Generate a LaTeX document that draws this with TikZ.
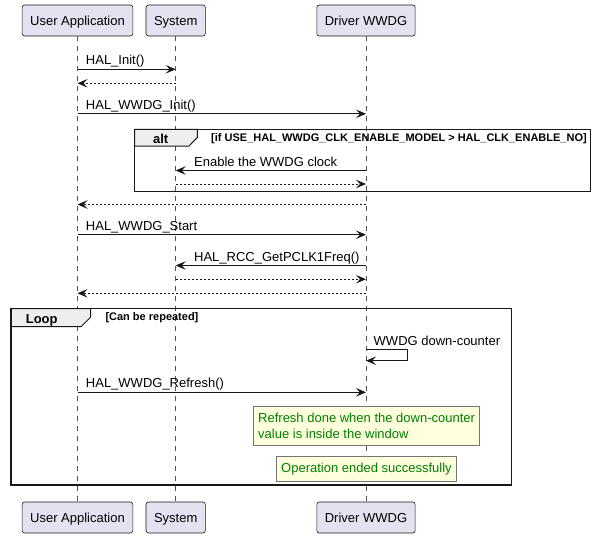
\documentclass[tikz,border=0pt]{standalone}
\usepackage{fontspec}
\setmainfont{Liberation Sans}
\usetikzlibrary{arrows.meta,positioning}

\definecolor{partfill}{RGB}{226,226,240}
\definecolor{notefill}{RGB}{254,255,221}
\definecolor{tabfill}{RGB}{238,238,238}
\definecolor{ink}{RGB}{24,24,24}
\definecolor{notetext}{RGB}{0,128,0}

\begin{document}
\begin{tikzpicture}[x=1pt, y=-1pt,
    part/.style={draw=ink, line width=0.6pt, fill=partfill, rounded corners=2.5pt,
                 minimum height=31pt, inner xsep=8pt, inner ysep=0pt,
                 text height=11.8pt, text depth=2.5pt, font=\fontsize{13}{15}\selectfont},
    life/.style={draw=ink!75, line width=0.5pt, dash pattern=on 5pt off 5pt},
    msg/.style={draw=ink, line width=0.9pt, -{Stealth[length=10pt, width=8.5pt, inset=4pt]}},
    ret/.style={msg, dash pattern=on 2pt off 2pt},
    lbl/.style={anchor=base west, inner sep=0pt, font=\fontsize{13}{15}\selectfont},
    frame/.style={draw=ink, line width=1.5pt},
    tab/.style={draw=ink, line width=1pt, fill=tabfill},
    grp/.style={anchor=base, inner sep=0pt, font=\fontsize{13}{15}\selectfont\bfseries},
    cond/.style={anchor=base west, inner sep=0pt, font=\fontsize{11}{13}\selectfont\bfseries},
    note/.style={draw=ink!60, line width=0.5pt, fill=notefill, text=notetext, align=left,
                 inner xsep=4.5pt, font=\fontsize{13}{16.5}\selectfont}]

\useasboundingbox (0,0) rectangle (596,538);

% === Participants (top and bottom) ===
\node[part] (ua)   at (77.5,20.5)   {User Application};
\node[part] (sys)  at (175.7,20.5)  {System};
\node[part] (drv)  at (366,20.5)    {Driver WWDG};
\node[part] (uaB)  at (77.5,517.5)  {User Application};
\node[part] (sysB) at (175.7,517.5) {System};
\node[part] (drvB) at (366,517.5)   {Driver WWDG};

% === Lifelines ===
\draw[life] (ua)  -- (uaB);
\draw[life] (sys) -- (sysB);
\draw[life] (drv) -- (drvB);

% === Message rows ===
\coordinate (m1) at (0,69.3);
\coordinate (r1) at (0,83.3);
\coordinate (m2) at (0,113.8);
\coordinate (m3) at (0,170.5);
\coordinate (r3) at (0,184);
\coordinate (r4) at (0,204.5);
\coordinate (m5) at (0,234.7);
\coordinate (m6) at (0,265.5);
\coordinate (r6) at (0,279.2);
\coordinate (r7) at (0,293.3);
\coordinate (s1) at (0,349.3);
\coordinate (s2) at (0,360.7);
\coordinate (m8) at (0,392.3);

% === Groups ===
\draw[tab] (134.7,129.3) -- (197.3,129.3) -- (197.3,137.5) -- (189,146) -- (134.7,146) -- cycle;
\draw[frame] (134.7,129.3) rectangle (590.7,191.7);
\node[grp]  (alt)     at (160.7,143.3) {alt};
\node[cond] (altcond) at (211,141.2)   {[if USE\_HAL\_WWDG\_CLK\_ENABLE\_MODEL > HAL\_CLK\_ENABLE\_NO]};

\draw[tab] (11,308.7) -- (90.7,308.7) -- (90.7,317) -- (81,326.7) -- (11,326.7) -- cycle;
\draw[frame] (11,308.7) rectangle (511.5,485);
\node[grp]  (loop)     at (41.7,323.2) {Loop};
\node[cond] (loopcond) at (105.3,320)  {[Can be repeated]};

% === Messages ===
\draw[msg] (ua |- m1) -- (sys |- m1)
    node[lbl, pos=0, xshift=8pt, yshift=4.5pt] {HAL\_Init()};
\draw[ret] (sys |- r1) -- (ua |- r1);
\draw[msg] (ua |- m2) -- (drv |- m2)
    node[lbl, pos=0, xshift=8pt, yshift=4.5pt] {HAL\_WWDG\_Init()};
\draw[msg] (drv |- m3) -- (sys |- m3)
    node[lbl, pos=1, xshift=18pt, yshift=4.5pt] {Enable the WWDG clock};
\draw[ret] (sys |- r3) -- (drv |- r3);
\draw[ret] (drv |- r4) -- (ua |- r4);
\draw[msg] (ua |- m5) -- (drv |- m5)
    node[lbl, pos=0, xshift=8pt, yshift=4.5pt] {HAL\_WWDG\_Start};
\draw[msg] (drv |- m6) -- (sys |- m6)
    node[lbl, pos=1, xshift=18pt, yshift=4.5pt] {HAL\_RCC\_GetPCLK1Freq()};
\draw[ret] (sys |- r6) -- (drv |- r6);
\draw[ret] (drv |- r7) -- (ua |- r7);

% self message
\draw[msg] (drv |- s1) -- ++(41.3,0) |- (drv |- s2);
\node[lbl] (selflbl) at ([xshift=7.5pt, yshift=3.8pt]drv |- s1) {WWDG down-counter};

\draw[msg] (ua |- m8) -- (drv |- m8)
    node[lbl, pos=0, xshift=8pt, yshift=4.5pt] {HAL\_WWDG\_Refresh()};

% === Notes ===
\node[note, minimum height=39.5pt] (note1) at (366.6,425.8)
    {Refresh done when the down-counter\\value is inside the window};
\node[note, minimum height=25pt] (note2) at (366.5,469)
    {Operation ended successfully};

\end{tikzpicture}
\end{document}
